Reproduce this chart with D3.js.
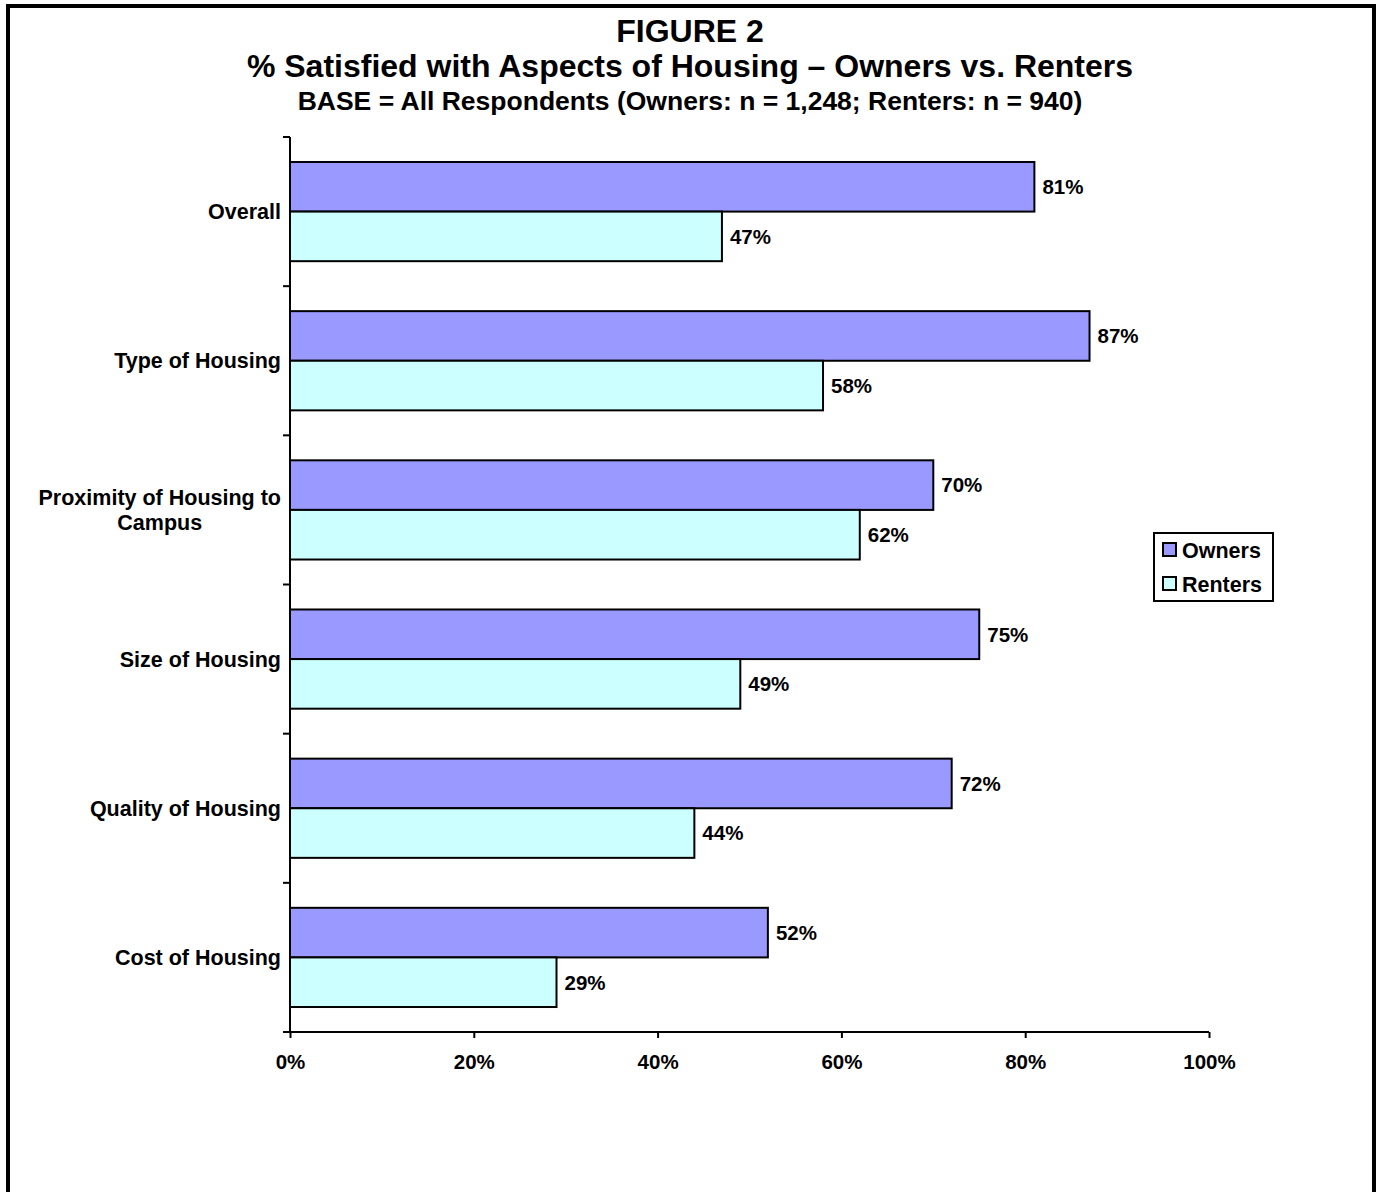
<!DOCTYPE html>
<html><head><meta charset="utf-8">
<script src="https://cdn.jsdelivr.net/npm/d3@7"></script>
<style>
html,body{margin:0;padding:0;background:#fff;}
svg{display:block;font-family:Arial,"Liberation Sans",sans-serif;font-weight:bold;}
</style></head>
<body><svg id="c" width="1378" height="1192"></svg>
<script>
const categories = ["Overall","Type of Housing","Proximity of Housing to Campus","Size of Housing","Quality of Housing","Cost of Housing"];
const categoryLines = [["Overall"],["Type of Housing"],["Proximity of Housing to","Campus"],["Size of Housing"],["Quality of Housing"],["Cost of Housing"]];
const seriesNames = ["Owners","Renters"];
const owners = [81,87,70,75,72,52];
const renters = [47,58,62,49,44,29];
const xTicks = [0,20,40,60,80,100];
const colors = ["#9999FF","#CCFFFF"];

const svg = d3.select("#c");
// outer frame
svg.append("rect").attr("x",8).attr("y",6).attr("width",1366).attr("height",1200)
  .attr("fill","#fff").attr("stroke","#000").attr("stroke-width",4);

// titles
svg.append("text").attr("x",690).attr("y",42).attr("text-anchor","middle").attr("font-size",32).text("FIGURE 2");
svg.append("text").attr("x",690).attr("y",77).attr("text-anchor","middle").attr("font-size",32).text("% Satisfied with Aspects of Housing \u2013 Owners vs. Renters");
svg.append("text").attr("x",690).attr("y",110).attr("text-anchor","middle").attr("font-size",26.5).text("BASE = All Respondents (Owners: n = 1,248; Renters: n = 940)");

const x = d3.scaleLinear().domain([0,100]).range([290,1209]);
const y = d3.scaleBand().domain(categories).range([137,1032]).paddingInner(0.335).paddingOuter(0.1675);
const sub = d3.scaleBand().domain(seriesNames).range([0,y.bandwidth()]);

const data = categories.map((c,i)=>({cat:c, vals:[owners[i],renters[i]]}));

const g = svg.append("g");
data.forEach(d=>{
  d.vals.forEach((v,j)=>{
    const yy = y(d.cat)+sub(seriesNames[j]);
    g.append("rect").attr("x",x(0)).attr("y",yy).attr("width",x(v)-x(0)).attr("height",sub.bandwidth())
      .attr("fill",colors[j]).attr("stroke","#000").attr("stroke-width",2);
    g.append("text").attr("x",x(v)+8).attr("y",yy+sub.bandwidth()/2).attr("dy","0.36em")
      .attr("font-size",20.5).text(v+"%");
  });
});

// x axis
const xAxis = d3.axisBottom(x).tickValues(xTicks).tickFormat(d=>d+"%").tickSize(6).tickSizeOuter(0);
const xa = svg.append("g").attr("transform","translate(0,1032)").call(xAxis);
xa.select(".domain").attr("stroke","#000").attr("stroke-width",2).attr("d","M283,0H1209");
xa.selectAll(".tick line").attr("stroke","#000").attr("stroke-width",2);
xa.selectAll(".tick text").attr("font-size",20.5).attr("font-family",'Arial,"Liberation Sans",sans-serif').attr("font-weight","bold").attr("fill","#000").attr("y",22).attr("dy","0.71em");

// y axis (category boundary ticks)
const yTickPos = d3.range(categories.length+1).map(i=>y.range()[0]+i*y.step());
svg.append("line").attr("x1",290).attr("x2",290).attr("y1",137).attr("y2",1032).attr("stroke","#000").attr("stroke-width",2);
yTickPos.forEach(p=>{
  svg.append("line").attr("x1",283).attr("x2",290).attr("y1",p).attr("y2",p).attr("stroke","#000").attr("stroke-width",2);
});

// category labels
categoryLines.forEach((lines,i)=>{
  const cy = y(categories[i]) + y.bandwidth()/2;
  const lh = 25.5;
  const n = lines.length;
  const t = svg.append("text").attr("font-size",21.5);
  const tmp = svg.append("text").attr("font-size",21.5).text(lines.reduce((a,b)=>a.length>b.length?a:b));
  const w = tmp.node().getComputedTextLength(); tmp.remove();
  const cx = 281 - w/2;
  lines.forEach((ln,k)=>{
    t.append("tspan").attr("x", n>1?cx:281).attr("text-anchor", n>1?"middle":"end")
      .attr("y", cy + (k-(n-1)/2)*lh).attr("dy","0.36em").text(ln);
  });
});

// legend
const lg = svg.append("g");
lg.append("rect").attr("x",1154).attr("y",533).attr("width",119).attr("height",68).attr("fill","#fff").attr("stroke","#000").attr("stroke-width",2);
seriesNames.forEach((s,j)=>{
  const yy = 550 + j*34;
  lg.append("rect").attr("x",1163).attr("y",yy-7).attr("width",13).attr("height",13).attr("fill",colors[j]).attr("stroke","#000").attr("stroke-width",2);
  lg.append("text").attr("x",1182).attr("y",yy).attr("dy","0.36em").attr("font-size",21.5).text(s);
});
</script></body></html>
